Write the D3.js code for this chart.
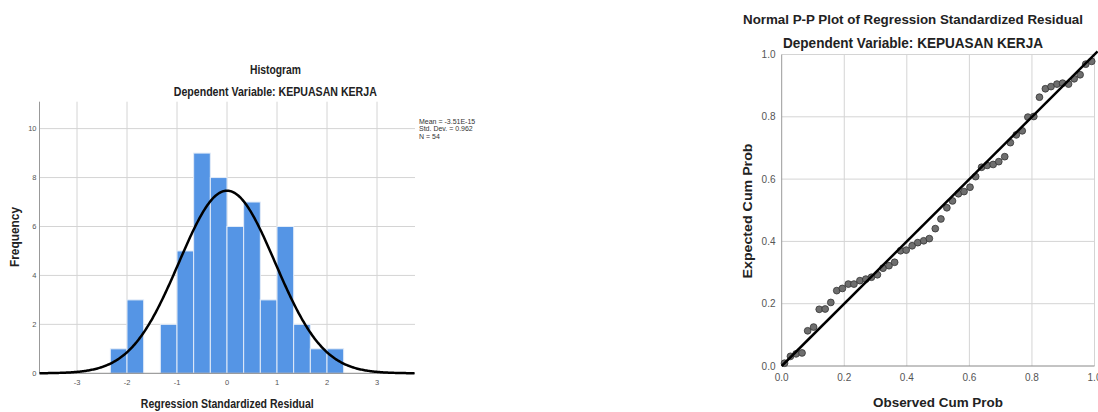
<!DOCTYPE html>
<html>
<head>
<meta charset="utf-8">
<script src="https://cdn.jsdelivr.net/npm/d3@7"></script>
<style>
  html, body { margin: 0; padding: 0; background: #fff; }
  svg { display: block; font-family: "Liberation Sans", Arial, sans-serif; }
</style>
</head>
<body>
<svg id="chart" width="1098" height="412"></svg>
<script>
// ---------- DATA ----------
// Histogram of regression standardized residuals
const binStarts = [-2.333, -2.0, -1.667, -1.333, -1.0, -0.667, -0.333, 0.0, 0.333, 0.667, 1.0, 1.333, 1.667, 2.0];
const binWidth = 1 / 3;
const binCounts = [1, 3, 0, 2, 5, 9, 8, 6, 7, 3, 6, 2, 1, 1];
const histMean = -3.51e-15;
const histStdDev = 0.962;
const histN = 54;
const histXTicks = [-3, -2, -1, 0, 1, 2, 3];
const histYTicks = [0, 2, 4, 6, 8, 10];
const legendLines = ["Mean = -3.51E-15", "Std. Dev. = 0.962", "N = 54"];

// Normal P-P plot
const observedCumProb = [0.009, 0.028, 0.046, 0.065, 0.083, 0.102, 0.120, 0.139, 0.157, 0.176,
  0.194, 0.213, 0.231, 0.250, 0.269, 0.287, 0.306, 0.324, 0.343, 0.361,
  0.380, 0.398, 0.417, 0.435, 0.454, 0.472, 0.491, 0.509, 0.528, 0.546,
  0.565, 0.583, 0.602, 0.620, 0.639, 0.657, 0.676, 0.694, 0.713, 0.731,
  0.750, 0.769, 0.787, 0.806, 0.824, 0.843, 0.861, 0.880, 0.898, 0.917,
  0.935, 0.954, 0.972, 0.991];
const expectedCumProb = [0.009, 0.031, 0.039, 0.042, 0.113, 0.125, 0.182, 0.183, 0.204, 0.242,
  0.249, 0.263, 0.263, 0.274, 0.279, 0.285, 0.293, 0.314, 0.322, 0.333,
  0.370, 0.372, 0.386, 0.396, 0.402, 0.409, 0.441, 0.472, 0.508, 0.530,
  0.553, 0.560, 0.574, 0.608, 0.638, 0.644, 0.647, 0.656, 0.672, 0.717,
  0.742, 0.755, 0.799, 0.801, 0.863, 0.890, 0.897, 0.905, 0.908, 0.905,
  0.922, 0.935, 0.969, 0.978];
const ppTicks = [0.0, 0.2, 0.4, 0.6, 0.8, 1.0];

// ---------- DRAW ----------
const svg = d3.select("#chart");
const gridColor = "#d4d4d4";
const tickColor = "#555";

// ===== Histogram =====
const hx = d3.scaleLinear().domain([-3.75, 3.76]).range([39.5, 415]);
const hy = d3.scaleLinear().domain([0, 11.1]).range([373.3, 101.7]);
const hist = svg.append("g");

// grid
hist.selectAll("line.vg").data(histXTicks).enter().append("line")
  .attr("x1", d => hx(d)).attr("x2", d => hx(d))
  .attr("y1", hy.range()[1]).attr("y2", hy.range()[0])
  .attr("stroke", gridColor).attr("stroke-width", 1);
hist.selectAll("line.hg").data(histYTicks.filter(d => d > 0)).enter().append("line")
  .attr("x1", hx.range()[0]).attr("x2", hx.range()[1])
  .attr("y1", d => hy(d)).attr("y2", d => hy(d))
  .attr("stroke", gridColor).attr("stroke-width", 1);

// bars
const bins = binStarts.map((s, i) => ({ x0: s, x1: s + binWidth, n: binCounts[i] })).filter(b => b.n > 0);
hist.selectAll("rect.bar").data(bins).enter().append("rect")
  .attr("x", d => hx(d.x0))
  .attr("width", d => hx(d.x1) - hx(d.x0))
  .attr("y", d => hy(d.n))
  .attr("height", d => hy(0) - hy(d.n))
  .attr("fill", "#5595e5")
  .attr("stroke", "#e3ecf8").attr("stroke-width", 1);

// axes lines
hist.append("line").attr("x1", hx.range()[0]).attr("x2", hx.range()[0])
  .attr("y1", hy.range()[1]).attr("y2", hy.range()[0]).attr("stroke", "#999");
hist.append("line").attr("x1", hx.range()[0]).attr("x2", hx.range()[1])
  .attr("y1", hy(0)).attr("y2", hy(0)).attr("stroke", "#888");

// normal curve
const pdf = x => Math.exp(-0.5 * Math.pow((x - histMean) / histStdDev, 2)) / (histStdDev * Math.sqrt(2 * Math.PI));
const curveXs = d3.range(-3.75, 3.7601, 0.02);
const line = d3.line().x(d => hx(d)).y(d => hy(histN * binWidth * pdf(d))).curve(d3.curveLinear);
hist.append("path").datum(curveXs).attr("d", line)
  .attr("fill", "none").attr("stroke", "#000").attr("stroke-width", 2.5);

// tick labels
hist.selectAll("text.xt").data(histXTicks).enter().append("text")
  .attr("x", d => hx(d)).attr("y", 385)
  .attr("text-anchor", "middle").attr("font-size", 7.5).attr("fill", tickColor)
  .text(d => d3.format("d")(d).replace("−", "-"));
hist.selectAll("text.yt").data(histYTicks).enter().append("text")
  .attr("x", 36.5).attr("y", d => hy(d) + 2.6)
  .attr("text-anchor", "end").attr("font-size", 7.5).attr("fill", tickColor)
  .text(d => d);

// titles
hist.append("text").attr("x", 275.5).attr("y", 74).attr("text-anchor", "middle")
  .attr("font-size", 12).attr("font-weight", "bold").attr("fill", "#222")
  .attr("textLength", 51).attr("lengthAdjust", "spacingAndGlyphs").text("Histogram");
hist.append("text").attr("x", 275.3).attr("y", 96).attr("text-anchor", "middle")
  .attr("font-size", 12).attr("font-weight", "bold").attr("fill", "#222")
  .attr("textLength", 203).attr("lengthAdjust", "spacingAndGlyphs").text("Dependent Variable: KEPUASAN KERJA");
hist.append("text").attr("transform", "translate(18.5,237) rotate(-90)").attr("text-anchor", "middle")
  .attr("font-size", 12).attr("font-weight", "bold").attr("fill", "#222")
  .attr("textLength", 60).attr("lengthAdjust", "spacingAndGlyphs").text("Frequency");
hist.append("text").attr("x", 227.3).attr("y", 408).attr("text-anchor", "middle")
  .attr("font-size", 12).attr("font-weight", "bold").attr("fill", "#222")
  .attr("textLength", 173).attr("lengthAdjust", "spacingAndGlyphs").text("Regression Standardized Residual");

// legend
hist.selectAll("text.lg").data(legendLines).enter().append("text")
  .attr("x", 419).attr("y", (d, i) => 123.5 + i * 7.8)
  .attr("font-size", 7).attr("fill", "#333")
  .text(d => d);

// ===== P-P plot =====
const px = d3.scaleLinear().domain([0, 1]).range([781.7, 1094.5]);
const py = d3.scaleLinear().domain([0, 1]).range([366, 54.5]);
const pp = svg.append("g");

pp.selectAll("line.vg").data(ppTicks.filter(d => d > 0)).enter().append("line")
  .attr("x1", d => px(d)).attr("x2", d => px(d))
  .attr("y1", py(1)).attr("y2", py(0))
  .attr("stroke", gridColor).attr("stroke-width", 1);
pp.selectAll("line.hg").data(ppTicks.filter(d => d > 0)).enter().append("line")
  .attr("x1", px(0)).attr("x2", px(1))
  .attr("y1", d => py(d)).attr("y2", d => py(d))
  .attr("stroke", gridColor).attr("stroke-width", 1);
pp.append("line").attr("x1", px(0)).attr("x2", px(0)).attr("y1", py(1)).attr("y2", py(0)).attr("stroke", "#999");
pp.append("line").attr("x1", px(0)).attr("x2", px(1)).attr("y1", py(0)).attr("y2", py(0)).attr("stroke", "#888");

const ppData = observedCumProb.map((o, i) => ({ o, e: expectedCumProb[i] }));
pp.selectAll("circle").data(ppData).enter().append("circle")
  .attr("cx", d => px(d.o)).attr("cy", d => py(d.e)).attr("r", 3.4)
  .attr("fill", "#6e6e6e").attr("stroke", "#333").attr("stroke-width", 0.8);

pp.append("line").attr("x1", px(0)).attr("y1", py(0)).attr("x2", px(1.01)).attr("y2", py(1.01))
  .attr("stroke", "#000").attr("stroke-width", 2.5);

pp.selectAll("text.xt").data(ppTicks).enter().append("text")
  .attr("x", d => px(d)).attr("y", 380.5)
  .attr("text-anchor", "middle").attr("font-size", 10).attr("fill", tickColor)
  .text(d => d3.format(".1f")(d));
pp.selectAll("text.yt").data(ppTicks).enter().append("text")
  .attr("x", 775.5).attr("y", d => py(d) + 3.5)
  .attr("text-anchor", "end").attr("font-size", 10).attr("fill", tickColor)
  .text(d => d3.format(".1f")(d));

pp.append("text").attr("x", 913).attr("y", 23.5).attr("text-anchor", "middle")
  .attr("font-size", 13).attr("font-weight", "bold").attr("fill", "#222")
  .attr("textLength", 340).attr("lengthAdjust", "spacingAndGlyphs").text("Normal P-P Plot of Regression Standardized Residual");
pp.append("text").attr("x", 913).attr("y", 48).attr("text-anchor", "middle")
  .attr("font-size", 14).attr("font-weight", "bold").attr("fill", "#222")
  .attr("textLength", 260).attr("lengthAdjust", "spacingAndGlyphs").text("Dependent Variable: KEPUASAN KERJA");
pp.append("text").attr("transform", "translate(751.5,211) rotate(-90)").attr("text-anchor", "middle")
  .attr("font-size", 13).attr("font-weight", "bold").attr("fill", "#222")
  .attr("textLength", 135).attr("lengthAdjust", "spacingAndGlyphs").text("Expected Cum Prob");
pp.append("text").attr("x", 938).attr("y", 406.5).attr("text-anchor", "middle")
  .attr("font-size", 13).attr("font-weight", "bold").attr("fill", "#222")
  .attr("textLength", 130).attr("lengthAdjust", "spacingAndGlyphs").text("Observed Cum Prob");
</script>
</body>
</html>
